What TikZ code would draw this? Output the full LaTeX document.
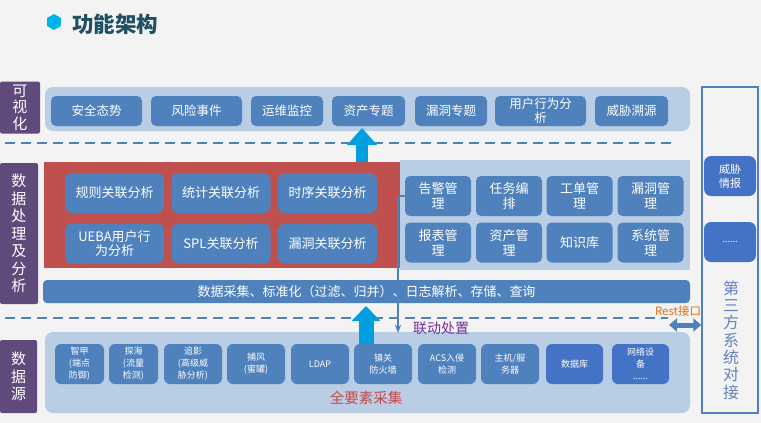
\documentclass[tikz,border=0pt]{standalone}
\usepackage{fontspec}
\setmainfont{Noto Sans CJK SC}
\usepackage{tikz}
\usetikzlibrary{arrows.meta, shapes.geometric}
\usepackage{xcolor}
\definecolor{bgGray}{HTML}{F3F3F3}
\definecolor{paleBlue}{HTML}{B9CDE5}
\definecolor{cellBlue}{HTML}{4F81BD}
\definecolor{deepBlue}{HTML}{4472C4}
\definecolor{tagPurple}{HTML}{604A7B}
\definecolor{boxRed}{HTML}{C0504D}
\definecolor{arrowCyan}{HTML}{00A0E0}
\definecolor{titleTeal}{HTML}{1F4F63}
\definecolor{restOrange}{HTML}{E46C0A}
\definecolor{linkPurple}{HTML}{7030A0}
\definecolor{sideText}{HTML}{6682C0}

\begin{document}
\begin{tikzpicture}[x=1pt, y=-1pt, >=Stealth,
  panel/.style={fill=paleBlue, rounded corners=8pt, inner sep=0pt},
  cell/.style={fill=cellBlue, rounded corners=5pt, text=white, align=center, inner sep=0pt},
  tag/.style={fill=tagPurple, rounded corners=2pt, text=white, align=center, inner sep=0pt, font=\fontsize{15}{17.5}\selectfont},
  dashrule/.style={draw=cellBlue, line width=2.6pt, dash pattern=on 10pt off 6pt},
  fatarrow/.style={draw=arrowCyan, line width=12pt, -{Triangle[width=29pt, length=17pt]}}]

  \fill[bgGray] (0,0) rectangle (761,423);
  \useasboundingbox (0,0) rectangle (761,423);

  % title
  \node[regular polygon, regular polygon sides=6, shape border rotate=30, fill=arrowCyan!80!cyan, minimum size=16pt, inner sep=0pt] (hex) at (54,22) {};
  \node[font=\fontsize{21.5}{24}\selectfont\bfseries, text=titleTeal, anchor=west, inner sep=0pt] (title) at (72,24) {功能架构};

  % layer tags
  \node[tag, minimum width=40pt, minimum height=52pt, font=\fontsize{15}{16.5}\selectfont] (tagVis) at (20,107.5) {可\\视\\化};
  \node[tag, minimum width=38pt, minimum height=141pt] (tagProc) at (19,233.5) {数\\据\\处\\理\\及\\分\\析};
  \node[tag, minimum width=37pt, minimum height=73pt] (tagSrc) at (18.5,376.5) {数\\据\\源};

  % visualisation layer
  \node[panel, minimum width=645pt, minimum height=44pt] (visPanel) at (367.5,109) {};
  \begin{scope}[every node/.style={cell, minimum height=30pt, font=\fontsize{12.5}{14}\selectfont}]
    \node[minimum width=91pt] (sec) at (96.5,111) {安全态势};
    \node[minimum width=91pt] (risk) at (196.5,111) {风险事件};
    \node[minimum width=72pt] (ops) at (287,111) {运维监控};
    \node[minimum width=73pt] (asset) at (368.5,111) {资产专题};
    \node[minimum width=72pt] (vuln) at (451,111) {漏洞专题};
    \node[minimum width=91pt] (behav) at (540.5,111) {用户行为分\\析};
    \node[minimum width=73pt] (trace) at (631.5,111) {威胁溯源};
  \end{scope}

  \draw[dashrule] (5,143) -- (673,143);

  % analysis
  \node[fill=boxRed, minimum width=356pt, minimum height=106pt, inner sep=0pt] (red) at (222,215) {};
  \begin{scope}[every node/.style={cell, minimum width=99pt, minimum height=40pt, rounded corners=7pt, font=\fontsize{13}{13.5}\selectfont}]
    \node (rule) at (114.5,193) {规则关联分析};
    \node (stat) at (221,193) {统计关联分析};
    \node (seq) at (327.5,193) {时序关联分析};
    \node (uebaA) at (114.5,243.5) {UEBA用户行\\为分析};
    \node (spl) at (221,243.5) {SPL关联分析};
    \node (vulnA) at (327.5,243.5) {漏洞关联分析};
  \end{scope}

  % management
  \node[fill=paleBlue, minimum width=290pt, minimum height=110pt, inner sep=0pt] (mgmt) at (545,215) {};
  \begin{scope}[every node/.style={cell, minimum width=66pt, minimum height=40pt, font=\fontsize{13}{15}\selectfont}]
    \node (alarm) at (438,196) {告警管\\理};
    \node (task) at (509,196) {任务编\\排};
    \node (order) at (579.5,196) {工单管\\理};
    \node (vulnM) at (650.5,196) {漏洞管\\理};
    \node (report) at (438,242.5) {报表管\\理};
    \node (assetM) at (509,242.5) {资产管\\理};
    \node (know) at (579.5,242.5) {知识库};
    \node (sys) at (650.5,242.5) {系统管\\理};
  \end{scope}

  \node[cell, rounded corners=4pt, minimum width=647pt, minimum height=23pt, font=\fontsize{13}{15}\selectfont] (bar) at (366.5,291.5) {数据采集、标准化（过滤、归并）、日志解析、存储、查询};

  \draw[dashrule] (5,318) -- (668,318);

  % data sources
  \node[panel, minimum width=645pt, minimum height=81pt] (srcPanel) at (367.5,372.5) {};
  \begin{scope}[every node/.style={cell, minimum width=58pt, minimum height=40pt, rounded corners=6pt, font=\fontsize{9}{12}\selectfont}]
    \node[minimum width=49pt] (edr) at (79.5,364) {智甲\\(端点\\防御)};
    \node[minimum width=49pt] (ndr) at (133.5,364) {探海\\(流量\\检测)};
    \node (apt) at (193,364) {追影\\(高级威\\胁分析)};
    \node (pot) at (256,364) {捕风\\(蜜罐)};
    \node (ldap) at (320,364) {LDAP};
    \node (fw) at (383,364) {镇关\\防火墙};
    \node (ids) at (447,364) {ACS入侵\\检测};
    \node (host) at (510,364) {主机/服\\务器};
    \node[fill=deepBlue, minimum width=57pt] (db) at (574.5,364) {数据库};
    \node[fill=deepBlue, minimum width=57pt] (net) at (640.5,364) {网络设\\备\\......};
  \end{scope}
  \node[text=boxRed!90!red, font=\fontsize{14.5}{16}\selectfont] (collect) at (366,398) {全要素采集};

  % third party
  \node[draw=cellBlue, line width=1.5pt, minimum width=56pt, minimum height=326pt, inner sep=0pt] (third) at (730,250) {};
  \node[cell, fill=deepBlue, minimum width=52pt, minimum height=40pt, rounded corners=7pt, font=\fontsize{11}{14}\selectfont] (intel) at (730,176) {威胁\\情报};
  \node[cell, fill=deepBlue, minimum width=52pt, minimum height=40pt, rounded corners=7pt, font=\fontsize{9}{12}\selectfont] (more) at (730,242) {......};
  \node[text=sideText, align=center, font=\fontsize{16}{17.3}\selectfont] (thirdText) at (731,340) {第\\三\\方\\系\\统\\对\\接};

  % arrows
  \coordinate (up1) at (362,128);
  \draw[fatarrow] (red.north -| up1) -- (up1);
  \coordinate (up2) at (366,306);
  \draw[fatarrow, line width=15pt, -{Triangle[width=28pt, length=15pt]}] (fw.north -| up2) -- (up2);

  \coordinate (link) at (398,333);
  \draw[->, cellBlue, line width=1.2pt] (alarm.west) -| (link);
  \node[text=linkPurple, font=\fontsize{14}{16}\selectfont, anchor=west, inner sep=0pt] (linkText) at (413,328) {联动处置};

  \coordinate (restL) at (669,325);
  \draw[cellBlue, line width=5pt, {Triangle[width=13pt, length=8pt]}-{Triangle[width=13pt, length=8pt]}] (restL) -- (third.west |- restL);
  \node[text=restOrange, font=\fontsize{11.5}{13}\selectfont, inner sep=0pt] (rest) at (678,311) {Rest接口};
\end{tikzpicture}
\end{document}
